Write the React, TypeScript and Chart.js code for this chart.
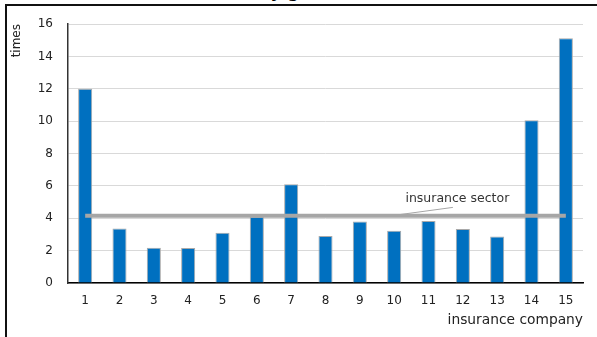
import React, { useEffect, useRef } from 'react';
import { Chart, registerables } from 'chart.js';

Chart.register(...registerables);

const companies = ['1', '2', '3', '4', '5', '6', '7', '8', '9', '10', '11', '12', '13', '14', '15'];
const companyRatios = [12.0, 3.37, 2.17, 2.16, 3.1, 4.1, 6.1, 2.9, 3.8, 3.23, 3.83, 3.33, 2.88, 10.06, 15.12];
const sectorRatio = 4.15;
const sectorValues = companies.map(() => sectorRatio);
const yMin = 0;
const yMax = 16;
const yStep = 2;
const xTitle = 'insurance company';
const yTitle = 'times';
const sectorLabel = 'insurance sector';
// label anchor and leader line in data units (category index, value)
const sectorLabelAt = [10.84, 5.23];
const leaderFrom = [10.71, 4.67];
const leaderTo = [9.14, 4.22];
const chartTitle = 'Debt ratio by gross assets';

const FONT = "'DejaVu Sans', Verdana, sans-serif";

const sectorLabelPlugin = {
  id: 'sectorLabel',
  afterDatasetsDraw(chart: any) {
    const { ctx, scales } = chart;
    const x = scales.x;
    const y = scales.y;
    ctx.save();
    ctx.strokeStyle = '#a6a6a6';
    ctx.lineWidth = 1;
    ctx.beginPath();
    ctx.moveTo(x.getPixelForValue(leaderFrom[0]), y.getPixelForValue(leaderFrom[1]));
    ctx.lineTo(x.getPixelForValue(leaderTo[0]), y.getPixelForValue(leaderTo[1]));
    ctx.stroke();
    ctx.fillStyle = '#333333';
    ctx.font = `12.5px ${FONT}`;
    ctx.textAlign = 'center';
    ctx.textBaseline = 'middle';
    ctx.fillText(sectorLabel, x.getPixelForValue(sectorLabelAt[0]), y.getPixelForValue(sectorLabelAt[1]));
    ctx.restore();
  },
};

export default function App() {
  const canvasRef = useRef<HTMLCanvasElement | null>(null);

  useEffect(() => {
    document.body.style.margin = '0';
    const canvas = canvasRef.current;
    if (!canvas) return;
    const chart = new Chart(canvas, {
      type: 'bar',
      data: {
        labels: companies,
        datasets: [
          {
            type: 'line',
            data: sectorValues,
            borderColor: '#a6a6a6',
            borderWidth: 4,
            pointRadius: 0,
            fill: false,
            order: 0,
          } as any,
          {
            type: 'bar',
            data: companyRatios,
            backgroundColor: '#0070c0',
            borderColor: '#a9a9a9',
            borderWidth: 1,
            barPercentage: 0.41,
            categoryPercentage: 1,
            order: 1,
          },
        ],
      },
      options: {
        responsive: false,
        animation: false,
        layout: { padding: { left: 5, top: 24, right: 14, bottom: 4 } },
        plugins: {
          legend: { display: false },
          tooltip: { enabled: false },
          title: { display: false },
        },
        scales: {
          x: {
            offset: true,
            grid: { display: false, drawTicks: false },
            border: { display: true, color: '#000000', width: 1.5 },
            ticks: { color: '#222222', font: { family: FONT, size: 12 }, padding: 11, maxRotation: 0 },
            title: {
              display: true,
              text: xTitle,
              align: 'end',
              color: '#222222',
              font: { family: FONT, size: 13.8 },
              padding: { top: 7, bottom: 4 },
            },
            afterFit(scale: any) {
              scale.height = 50;
            },
          },
          y: {
            min: yMin,
            max: yMax,
            grid: { color: '#d9d9d9', lineWidth: 1, drawTicks: false },
            border: { display: true, color: '#333333', width: 1.5 },
            ticks: { stepSize: yStep, color: '#222222', font: { family: FONT, size: 12 }, padding: 15 },
            title: {
              display: true,
              text: yTitle,
              align: 'end',
              color: '#222222',
              font: { family: FONT, size: 12 },
              padding: { top: 5, bottom: 4 },
            },
            afterFit(scale: any) {
              scale.width = 63;
            },
          },
        },
      },
      plugins: [sectorLabelPlugin],
    });
    return () => chart.destroy();
  }, []);

  return (
    <div style={{ position: 'relative', width: 597, height: 337, overflow: 'hidden', background: '#ffffff' }}>
      <div
        style={{
          position: 'absolute',
          left: 155,
          top: -17,
          font: `bold 17px ${FONT}`,
          lineHeight: '16px',
          whiteSpace: 'nowrap',
          color: '#000',
        }}
      >
        {chartTitle}
      </div>
      <div
        style={{
          position: 'absolute',
          left: 5,
          top: 4,
          width: 620,
          height: 360,
          borderTop: '2.5px solid #111',
          borderLeft: '2.5px solid #111',
          boxSizing: 'border-box',
        }}
      />
      <canvas ref={canvasRef} width={597} height={337} style={{ position: 'absolute', left: 0, top: 0 }} />
    </div>
  );
}
